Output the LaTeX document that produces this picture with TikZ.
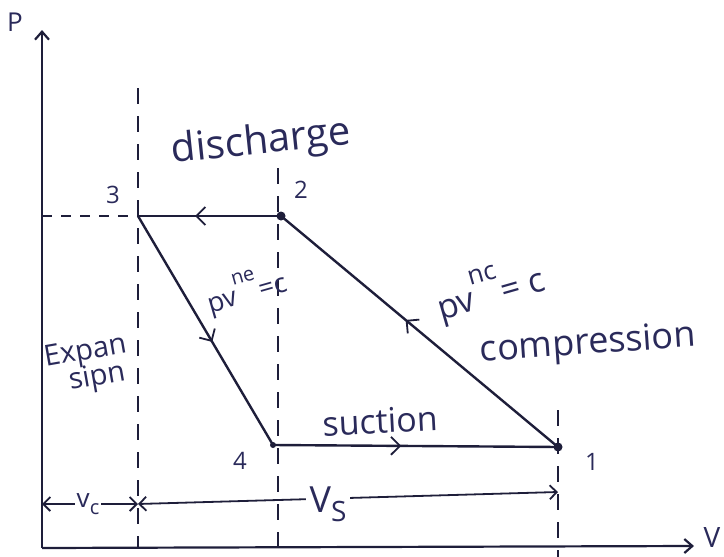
\documentclass[tikz,border=0pt]{standalone}
\usepackage{fontspec}
\setmainfont{Open Sans}
\usetikzlibrary{arrows.meta,decorations.markings}
\definecolor{ink}{HTML}{1E1E3A}
\definecolor{pen}{HTML}{2A2A5A}

\tikzset{
  axis/.style={ink,line width=2.2pt,-{Straight Barb[length=8pt,width=14pt]}},
  stroke/.style={ink,line width=2.4pt},
  guide/.style={ink,line width=2pt,dash pattern=on 16pt off 12pt},
  midarrow/.style={postaction={decorate},decoration={markings,
    mark=at position #1 with {\arrow{Straight Barb[length=9pt,width=18pt,line width=1.8pt]}}}},
  dot/.style={circle,fill=ink,inner sep=0pt,minimum size=9pt},
  corner/.style={inner sep=0pt,minimum size=0pt},
  hand/.style={pen,font=\fontsize{36}{38}\selectfont},
  num/.style={pen,font=\fontsize{24}{26}\selectfont},
  span/.style={ink,line width=1.8pt,{Straight Barb[length=7pt,width=14pt]}-{Straight Barb[length=7pt,width=14pt]}}
}

\begin{document}
\begin{tikzpicture}[x=1pt,y=-1pt]
\useasboundingbox (0,0) rectangle (724,557);
% axes
\coordinate (o) at (42,548);
\coordinate (ptop) at (42,30);
\coordinate (vend) at (694,546);
\draw[axis] (o) -- (ptop);
\draw[axis] (o) -- (vend);
\node[hand,font=\fontsize{26}{28}\selectfont] (plab) at (15,22) {P};
\node[hand,font=\fontsize{28}{30}\selectfont] (vlab) at (712,538) {V};

% state points
\node[corner] (p3) at (138,216) {};
\node[dot] (p2) at (281,216) {};
\node[dot,minimum size=6pt] (p4) at (273,445) {};
\node[dot] (p1) at (558,447) {};

% guide lines
\coordinate (g3a) at (138,88);
\coordinate (g3b) at (138,548);
\coordinate (g2a) at (278,168);
\coordinate (g2b) at (278,548);
\coordinate (g1a) at (558,410);
\coordinate (g1b) at (558,557);
\coordinate (g3l) at (42,216);
\draw[guide] (g3a) -- (g3b);
\draw[guide] (g2a) -- (g2b);
\draw[guide] (g1a) -- (g1b);
\draw[guide,dash pattern=on 10pt off 9pt] (g3l) -- (p3);

% cycle
\draw[stroke,midarrow=0.6] (p2.center) -- (p3.center);
\draw[stroke,midarrow=0.55] (p3.center) -- (p4.center);
\draw[stroke,midarrow=0.45] (p4.center) -- (p1.center);
\draw[stroke,midarrow=0.55] (p1.center) -- (p2.center);

% point numbers
\node[num] (n3) at (113,195) {3};
\node[num] (n2) at (301,190) {2};
\node[num] (n4) at (240,461) {4};
\node[num] (n1) at (592,462) {1};

% process labels
\node[hand,rotate=6,font=\fontsize{40}{42}\selectfont] (dis) at (261,143) {discharge};
\node[hand,rotate=4] (com) at (588,345) {compression};
\node[hand,rotate=3,font=\fontsize{34}{36}\selectfont] (suc) at (380,421) {suction};
\node[hand,rotate=10,align=center,font=\fontsize{29}{27}\selectfont] (exp) at (88,366) {Expan\\[-2pt]\hspace*{14pt}sipn};
\node[hand,rotate=16,font=\fontsize{27}{29}\selectfont] (expn) at (246,290) {pv\raisebox{0.75em}{\fontsize{20}{20}\selectfont ne}=c};
\node[hand,rotate=16,font=\fontsize{34}{36}\selectfont] (cmpn) at (490,290) {pv\raisebox{0.75em}{\fontsize{26}{26}\selectfont nc}= c};

% volumes
\coordinate (vcl) at (42,504);
\coordinate (vcr) at (138,504);
\coordinate (vsr) at (558,492);
\draw[span] (vcl) -- (vcr);
\draw[span] (vcr) -- (vsr);
\node[hand,font=\fontsize{26}{28}\selectfont,fill=white,inner sep=2pt] (vc) at (88,504) {v\raisebox{-0.25em}{\fontsize{20}{20}\selectfont c}};
\node[hand,font=\fontsize{36}{38}\selectfont,fill=white,inner sep=4pt] (vs) at (328,504) {V\raisebox{-0.25em}{\fontsize{28}{28}\selectfont S}};
\end{tikzpicture}
\end{document}
